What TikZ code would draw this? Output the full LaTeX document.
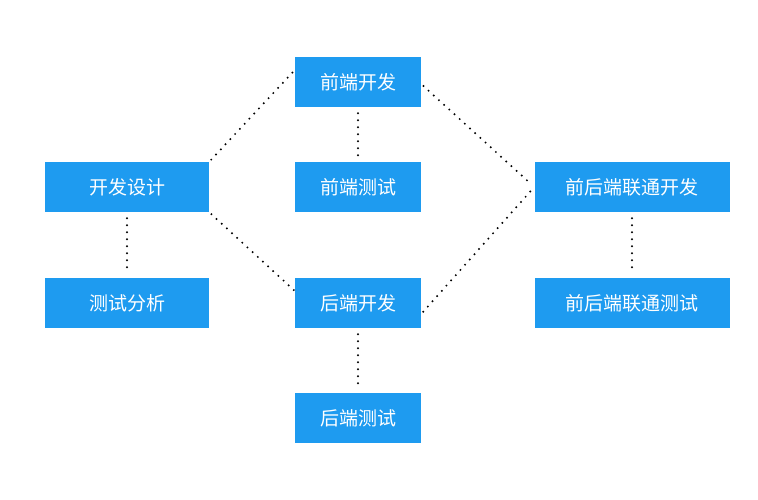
\documentclass[tikz,border=0pt]{standalone}
\usepackage{fontspec}
\setmainfont{Noto Sans CJK SC}
\definecolor{boxblue}{HTML}{1E9BF0}
\tikzset{
  task/.style={fill=boxblue, text=white, minimum height=50pt, font=\fontsize{19}{19}\selectfont, inner sep=0pt},
  link/.style={line width=2.2pt, dash pattern=on 0pt off 7pt, line cap=round, shorten >=6pt, shorten <=6pt}
}
\begin{document}
\begin{tikzpicture}[x=1pt,y=-1pt]
  \useasboundingbox (0,0) rectangle (758,500);

  \node[task, minimum width=164pt] (design) at (127,187) {开发设计};
  \node[task, minimum width=164pt] (analysis) at (127,303) {测试分析};
  \node[task, minimum width=126pt] (fedev) at (358,82) {前端开发};
  \node[task, minimum width=126pt] (fetest) at (358,187) {前端测试};
  \node[task, minimum width=126pt] (bedev) at (358,303) {后端开发};
  \node[task, minimum width=126pt] (betest) at (358,418) {后端测试};
  \node[task, minimum width=195pt] (jointdev) at (632,187) {前后端联通开发};
  \node[task, minimum width=195pt] (jointtest) at (632,303) {前后端联通测试};

  \draw[link] (design.south) -- (analysis.north);
  \draw[link] (fedev.south) -- (fetest.north);
  \draw[link] (bedev.south) -- (betest.north);
  \draw[link] (jointdev.south) -- (jointtest.north);
  \draw[link, shorten <=3pt, shorten >=0pt] (design.north east) -- ([yshift=12pt]fedev.west);
  \draw[link, shorten <=3pt, shorten >=0pt] (design.south east) -- ([yshift=12pt]bedev.west);
  \draw[link, shorten <=3pt, shorten >=3pt] ([yshift=-2pt]fedev.east) -- (jointdev.west);
  \draw[link, shorten <=3pt, shorten >=3pt] ([yshift=-11pt]bedev.east) -- (jointdev.west);
\end{tikzpicture}
\end{document}
